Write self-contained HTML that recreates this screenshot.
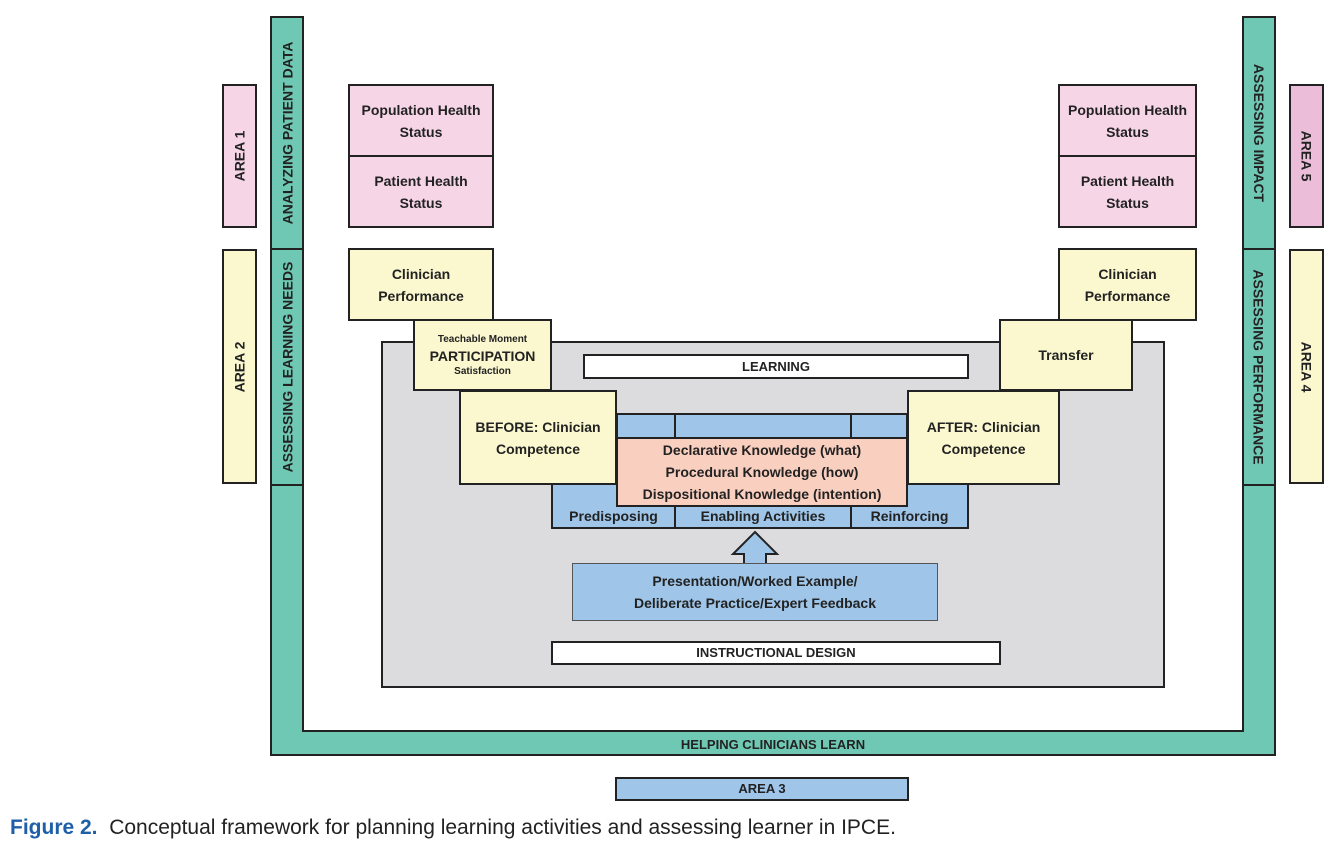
<!DOCTYPE html>
<html><head><meta charset="utf-8"><style>
body{margin:0;width:1338px;height:851px;background:#fff;position:relative;font-family:"Liberation Sans",sans-serif;overflow:hidden}
.b{position:absolute;box-sizing:border-box;border:2px solid #222;display:flex;align-items:center;justify-content:center;text-align:center;font-weight:bold;font-size:14px;color:#222;line-height:22px}
.t{background:#6fc8b4}.p{background:#f6d5e7}.y{background:#fbf8cf}.bl{background:#9fc5e8}.s{background:#f9cfc0}.w{background:#fff}.g{background:#dcdcde}
.vl span{transform:rotate(-90deg);white-space:nowrap;display:block}
.vr span{transform:rotate(90deg);white-space:nowrap;display:block}
</style></head><body>
<div class="b t" style="left:270px;top:730px;width:1006px;height:26px;font-size:13px;line-height:18px;align-items:flex-end">HELPING CLINICIANS LEARN</div>
<div class="b t vl" style="left:270px;top:16px;width:34px;height:234px"><span>ANALYZING PATIENT DATA</span></div>
<div class="b t vl" style="left:270px;top:248px;width:34px;height:238px"><span>ASSESSING LEARNING NEEDS</span></div>
<div class="b t" style="left:270px;top:484px;width:34px;height:248px;border-bottom:none"></div>
<div class="b t vr" style="left:1242px;top:16px;width:34px;height:234px"><span>ASSESSING IMPACT</span></div>
<div class="b t vr" style="left:1242px;top:248px;width:34px;height:238px"><span>ASSESSING PERFORMANCE</span></div>
<div class="b t" style="left:1242px;top:484px;width:34px;height:248px;border-bottom:none"></div>
<div class="b t" style="left:302px;top:730px;width:942px;height:4px;border:none;background:#6fc8b4"></div>
<div style="position:absolute;left:302px;top:730px;width:942px;height:2px;background:#222"></div>

<div class="b p vl" style="left:222px;top:84px;width:35px;height:144px"><span>AREA 1</span></div>
<div class="b y vl" style="left:222px;top:249px;width:35px;height:235px"><span>AREA 2</span></div>
<div class="b vr" style="left:1289px;top:84px;width:35px;height:144px;background:#ebbdd8"><span>AREA 5</span></div>
<div class="b y vr" style="left:1289px;top:249px;width:35px;height:235px"><span>AREA 4</span></div>

<div class="b p" style="left:348px;top:84px;width:146px;height:73px">Population Health<br>Status</div>
<div class="b p" style="left:348px;top:155px;width:146px;height:73px">Patient Health<br>Status</div>
<div class="b p" style="left:1058px;top:84px;width:139px;height:73px">Population Health<br>Status</div>
<div class="b p" style="left:1058px;top:155px;width:139px;height:73px">Patient Health<br>Status</div>
<div class="b y" style="left:348px;top:248px;width:146px;height:73px">Clinician<br>Performance</div>
<div class="b y" style="left:1058px;top:248px;width:139px;height:73px">Clinician<br>Performance</div>

<div class="b g" style="left:381px;top:341px;width:784px;height:347px"></div>
<div class="b w" style="left:583px;top:354px;width:386px;height:25px;font-size:13px">LEARNING</div>
<div class="b y" style="left:413px;top:319px;width:139px;height:72px;flex-direction:column;line-height:normal"><span style="font-size:10px">Teachable Moment</span><span style="font-size:14px;margin:3px 0 2px">PARTICIPATION</span><span style="font-size:10px">Satisfaction</span></div>
<div class="b y" style="left:999px;top:319px;width:134px;height:72px">Transfer</div>

<div class="b bl" style="left:551px;top:482px;width:418px;height:47px"></div>
<div class="b bl" style="left:551px;top:505px;width:125px;height:24px;border-top:none">Predisposing</div>
<div class="b bl" style="left:674px;top:505px;width:178px;height:24px;border-top:none">Enabling Activities</div>
<div class="b bl" style="left:850px;top:505px;width:119px;height:24px;border-top:none">Reinforcing</div>
<div class="b bl" style="left:616px;top:413px;width:60px;height:26px"></div>
<div class="b bl" style="left:674px;top:413px;width:178px;height:26px"></div>
<div class="b bl" style="left:850px;top:413px;width:58px;height:26px"></div>
<div class="b s" style="left:616px;top:437px;width:292px;height:70px">Declarative Knowledge (what)<br>Procedural Knowledge (how)<br>Dispositional Knowledge (intention)</div>
<div class="b y" style="left:459px;top:390px;width:158px;height:95px">BEFORE: Clinician<br>Competence</div>
<div class="b y" style="left:907px;top:390px;width:153px;height:95px">AFTER: Clinician<br>Competence</div>

<svg style="position:absolute;left:730px;top:530px" width="50" height="36"><polygon points="25,2 47,24 36,24 36,35 14,35 14,24 3,24" fill="#9fc5e8" stroke="#222" stroke-width="2"/></svg>
<div class="b bl" style="left:572px;top:563px;width:366px;height:58px;border-width:1px;border-color:#555">Presentation/Worked Example/<br>Deliberate Practice/Expert Feedback</div>
<div class="b w" style="left:551px;top:641px;width:450px;height:24px;font-size:13px">INSTRUCTIONAL DESIGN</div>

<div class="b bl" style="left:615px;top:777px;width:294px;height:24px;font-size:13px">AREA 3</div>
<div style="position:absolute;left:10px;top:816px;font-size:21px;color:#222;font-family:'Liberation Sans',sans-serif;white-space:nowrap"><b style="color:#1f5fa8">Figure 2.</b>&nbsp; Conceptual framework for planning learning activities and assessing learner in IPCE.</div>
</body></html>
